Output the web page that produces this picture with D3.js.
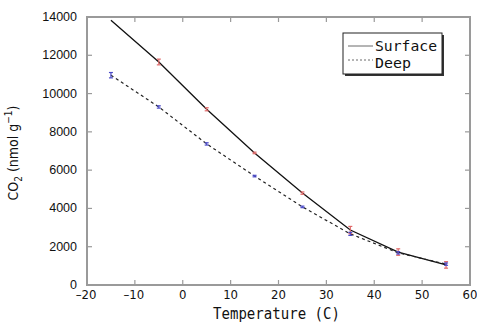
<!DOCTYPE html>
<html>
<head>
<meta charset="utf-8">
<script src="https://cdn.jsdelivr.net/npm/d3@7"></script>
<style>
  body { margin: 0; background: #fff; }
  .tick-y { font-family: "Liberation Sans", Arial, sans-serif; font-size: 12.5px; fill: #111; }
  .goth { font-family: "DejaVu Sans Condensed", "DejaVu Sans Mono", sans-serif; fill: #111; }
  .mono { font-family: "DejaVu Sans Mono", monospace; fill: #111; }
</style>
</head>
<body>
<div id="chart"></div>
<script>
// values
const temps = [-15, -5, 5, 15, 25, 35, 45, 55];
const surface = [13830, 11650, 9180, 6900, 4800, 2870, 1720, 1050];
const surfaceErr = [0, 150, 80, 40, 60, 190, 170, 170];
const deep = [10960, 9300, 7370, 5690, 4080, 2670, 1680, 1090];
const deepErr = [140, 60, 60, 30, 30, 80, 60, 60];
const xTicks = [-20, -10, 0, 10, 20, 30, 40, 50, 60];
const yTicks = [0, 2000, 4000, 6000, 8000, 10000, 12000, 14000];

const width = 477, height = 325;
const padL = 87, padR = 470, padT = 17, padB = 285;

const svg = d3.select("#chart").append("svg")
  .attr("width", width)
  .attr("height", height);

const x = d3.scaleLinear().domain([-20, 60]).range([padL, padR]);
const y = d3.scaleLinear().domain([0, 14000]).range([padB, padT]);

const axisCol = "#9a9a9a";

// frame
svg.append("rect")
  .attr("x", padL).attr("y", padT)
  .attr("width", padR - padL).attr("height", padB - padT)
  .attr("fill", "none").attr("stroke", axisCol).attr("stroke-width", 2);

// ticks pointing inward on all four sides
const tickLen = 5;
xTicks.slice(1, -1).forEach(t => {
  svg.append("line").attr("x1", x(t)).attr("x2", x(t))
    .attr("y1", padB).attr("y2", padB - tickLen)
    .attr("stroke", axisCol).attr("stroke-width", 1.2);
  svg.append("line").attr("x1", x(t)).attr("x2", x(t))
    .attr("y1", padT).attr("y2", padT + tickLen)
    .attr("stroke", axisCol).attr("stroke-width", 1.2);
});
yTicks.slice(1, -1).forEach(t => {
  svg.append("line").attr("x1", padL).attr("x2", padL + tickLen)
    .attr("y1", y(t)).attr("y2", y(t))
    .attr("stroke", axisCol).attr("stroke-width", 1.2);
  svg.append("line").attr("x1", padR).attr("x2", padR - tickLen)
    .attr("y1", y(t)).attr("y2", y(t))
    .attr("stroke", axisCol).attr("stroke-width", 1.2);
});

// tick labels
svg.selectAll(".xl").data(xTicks).enter().append("text")
  .attr("class", "goth")
  .attr("x", d => x(d) + (d < 0 ? -1 : 0)).attr("y", 299)
  .attr("text-anchor", "middle")
  .attr("font-size", 13)
  .text(d => d < 0 ? "\u2013" + Math.abs(d) : d);

svg.selectAll(".yl").data(yTicks).enter().append("text")
  .attr("class", "tick-y")
  .attr("x", 77).attr("y", d => y(d) + 4)
  .attr("text-anchor", "end")
  .text(d => d);

// axis titles
svg.append("text").attr("class", "mono")
  .attr("x", 213).attr("y", 319)
  .attr("font-size", 15)
  .attr("textLength", 127).attr("lengthAdjust", "spacingAndGlyphs")
  .text("Temperature (C)");

const yt = svg.append("text").attr("class", "goth")
  .attr("transform", "translate(18,153) rotate(-90)")
  .attr("text-anchor", "middle").attr("font-size", 14);
yt.append("tspan").text("CO");
yt.append("tspan").attr("font-size", 10).attr("dy", 4).text("2");
yt.append("tspan").attr("dy", -4).text(" (nmol  g");
yt.append("tspan").attr("font-size", 10).attr("dy", -6).text("\u22121");
yt.append("tspan").attr("dy", 6).text(")");

// lines
const line = vals => d3.line()
  .x((d, i) => x(temps[i]))
  .y(d => y(d))(vals);

svg.append("path").attr("d", line(surface))
  .attr("fill", "none").attr("stroke", "#111").attr("stroke-width", 1.3);
svg.append("path").attr("d", line(deep))
  .attr("fill", "none").attr("stroke", "#222").attr("stroke-width", 1.2)
  .attr("stroke-dasharray", "3,3");

// error bars
function errBars(vals, errs, col) {
  vals.forEach((v, i) => {
    if (!errs[i]) return;
    const cx = x(temps[i]);
    const e = Math.max(errs[i], 40);
    const g = svg.append("g").attr("stroke", col).attr("stroke-width", 1.2);
    g.append("line").attr("x1", cx).attr("x2", cx).attr("y1", y(v - e)).attr("y2", y(v + e));
    g.append("line").attr("x1", cx - 2).attr("x2", cx + 2).attr("y1", y(v - e)).attr("y2", y(v - e));
    g.append("line").attr("x1", cx - 2).attr("x2", cx + 2).attr("y1", y(v + e)).attr("y2", y(v + e));
  });
}
errBars(surface, surfaceErr, "#e06a6a");
errBars(deep, deepErr, "#4b4bc8");

// legend
const lx = 343, ly = 33, lw = 99, lh = 41;
svg.append("rect").attr("x", lx + 2).attr("y", ly + 2).attr("width", lw).attr("height", lh)
  .attr("fill", "#333");
svg.append("rect").attr("x", lx).attr("y", ly).attr("width", lw).attr("height", lh)
  .attr("fill", "#fff").attr("stroke", "#222").attr("stroke-width", 1);
svg.append("line").attr("x1", lx + 5).attr("x2", lx + 30).attr("y1", ly + 13).attr("y2", ly + 13)
  .attr("stroke", "#444").attr("stroke-width", 0.8);
svg.append("line").attr("x1", lx + 5).attr("x2", lx + 30).attr("y1", ly + 27).attr("y2", ly + 27)
  .attr("stroke", "#444").attr("stroke-width", 0.8).attr("stroke-dasharray", "2,2");
svg.append("text").attr("class", "mono").attr("x", lx + 32).attr("y", ly + 18)
  .attr("font-size", 14)
  .attr("textLength", 62).attr("lengthAdjust", "spacingAndGlyphs")
  .text("Surface");
svg.append("text").attr("class", "mono").attr("x", lx + 32).attr("y", ly + 35)
  .attr("font-size", 14)
  .attr("textLength", 36).attr("lengthAdjust", "spacingAndGlyphs")
  .text("Deep");
</script>
</body>
</html>
